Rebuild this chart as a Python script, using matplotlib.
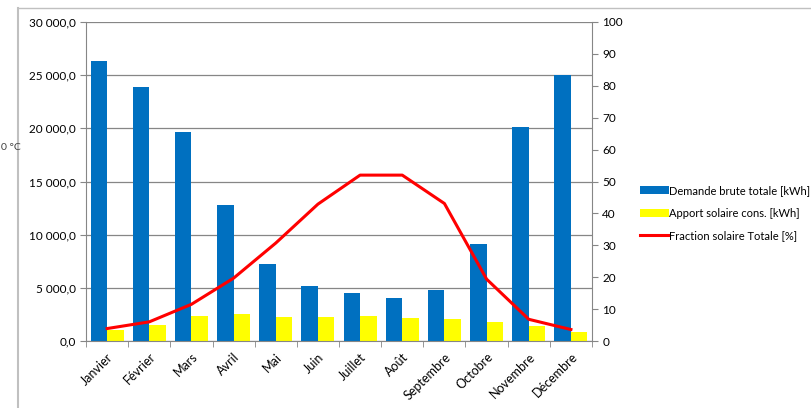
import matplotlib.pyplot as plt
import numpy as np
from matplotlib.ticker import FuncFormatter, MultipleLocator
from matplotlib.lines import Line2D

plt.rcParams['font.family'] = ['Lato', 'DejaVu Sans']

mois = ['Janvier', 'Février', 'Mars', 'Avril', 'Mai', 'Juin', 'Juillet',
        'Août', 'Septembre', 'Octobre', 'Novembre', 'Décembre']
demande = [26300, 23860, 19650, 12760, 7270, 5170, 4480, 4040, 4800, 9090, 20130, 25020]
apport = [1010, 1480, 2330, 2580, 2230, 2230, 2330, 2140, 2040, 1760, 1390, 890]
fraction = [3.9, 6.0, 11.5, 19.7, 30.7, 42.9, 52.0, 52.0, 43.1, 19.4, 6.8, 3.6]

bleu = '#0070c0'
jaune = '#ffff00'
rouge = '#ff0000'
gris = '#868686'

fig = plt.figure(figsize=(8.11, 4.08), dpi=100)
fig.patch.set_facecolor('white')

# cadre du graphique (coupé)
fig.add_artist(Line2D([18 / 811, 18 / 811], [0, 400 / 408], color='#c0c0c0', lw=1.5))
fig.add_artist(Line2D([18 / 811, 1], [400 / 408, 400 / 408], color='#c0c0c0', lw=1.0))
fig.text(0.001, 1 - 148 / 408, '0 °C', fontsize=7.5, va='center', ha='left', color='#404040')

ax = fig.add_axes([86 / 811, 67 / 408, 506 / 811, 319 / 408])
x = np.arange(len(mois))
w = 0.39
ax.bar(x - w / 2, demande, w, color=bleu, label='Demande brute totale [kWh]', zorder=2)
ax.bar(x + w / 2, apport, w, color=jaune, label='Apport solaire cons. [kWh]', zorder=2)
ax.set_xlim(-0.5, len(mois) - 0.5)
ax.set_ylim(0, 30000)
ax.yaxis.set_major_locator(MultipleLocator(5000))
ax.yaxis.set_major_formatter(FuncFormatter(lambda v, p: '{:,.1f}'.format(v).replace(',', ' ').replace('.', ',')))
ax.grid(axis='y', color=gris, lw=0.9, zorder=0)
ax.set_axisbelow(True)
for s in ['top', 'right']:
    ax.spines[s].set_visible(False)
for s in ['left', 'bottom']:
    ax.spines[s].set_color(gris)
ax.set_xticks(x)
ax.set_xticklabels(mois, rotation=45, ha='right', rotation_mode='anchor', fontsize=9)
ax.set_xticks(np.arange(-0.5, len(mois), 1), minor=True)
ax.tick_params(axis='x', which='major', length=0, pad=7)
ax.tick_params(axis='x', which='minor', length=4, color=gris)
ax.tick_params(axis='y', length=4, color=gris, labelsize=8.5)

ax2 = ax.twinx()
ax2.plot(x, fraction, color=rouge, lw=2.2, label='Fraction solaire Totale [%]', zorder=3)
ax2.set_ylim(0, 100)
ax2.yaxis.set_major_locator(MultipleLocator(10))
for s in ['top', 'left', 'bottom']:
    ax2.spines[s].set_visible(False)
ax2.spines['right'].set_color(gris)
ax2.tick_params(axis='y', length=4, color=gris, labelsize=8.5)

h1, l1 = ax.get_legend_handles_labels()
h2, l2 = ax2.get_legend_handles_labels()
fig.legend(h1 + h2, l1 + l2, loc='upper left', bbox_to_anchor=(630 / 811, 1 - 175 / 408),
           frameon=False, fontsize=8, handlelength=2.6, handleheight=0.8,
           handletextpad=0.05, labelspacing=1.05)

fig.savefig('out.png', dpi=100)
